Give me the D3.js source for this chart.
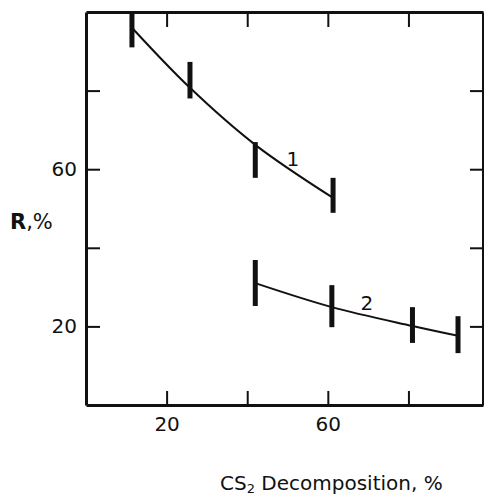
<!DOCTYPE html>
<html>
<head>
    <meta charset="utf-8">
    <script src="https://cdn.jsdelivr.net/npm/d3@7"></script>
    <style>
    body { margin: 0; background: #fff; }
    text { font-family: "DejaVu Sans", sans-serif; fill: #111; }
    .axis path, .axis line { stroke: #111; }
    </style>
</head>
<body>
    <script>
    // values
    var xTicks = [20, 40, 60, 80];
    var yTicks = [20, 40, 60, 80];
    var xLabels = [20, 60];
    var yLabels = [20, 60];

    // curve 1
    var s1x = [11.4, 25.8, 42, 61.3];
    var s1y = [96, 80.7, 66.2, 52.7];
    var s1lo = [91, 78, 57.8, 48.9];
    var s1hi = [100, 87.3, 66.9, 57.8];

    // curve 2
    var s2x = [42, 61, 81, 92.3];
    var s2y = [31, 24.9, 20.1, 17.6];
    var s2lo = [25.2, 19.8, 15.8, 13.2];
    var s2hi = [36.9, 30.5, 24.9, 22.6];

    var series = [
        {name: "1", xs: s1x, ys: s1y, lo: s1lo, hi: s1hi, lx: 51.3, ly: 60.8},
        {name: "2", xs: s2x, ys: s2y, lo: s2lo, hi: s2hi, lx: 69.7, ly: 24.2}
    ];

    var width = 484, height = 497;
    var svg = d3.select("body").append("svg")
        .attr("width", width)
        .attr("height", height);

    var x = d3.scaleLinear().domain([0, 98.5]).range([86, 483]);
    var y = d3.scaleLinear().domain([0, 100]).range([405, 12]);

    var fmt = function(d) { return xLabels.indexOf(d) >= 0 ? d : ""; };
    var fmtY = function(d) { return yLabels.indexOf(d) >= 0 ? d : ""; };

    // axes, ticks pointing inward
    svg.append("g").attr("class", "axis")
        .attr("transform", "translate(0," + y(0) + ")")
        .call(d3.axisBottom(x).tickValues(xTicks).tickSizeInner(-14).tickSizeOuter(0).tickPadding(12).tickFormat(fmt));
    svg.append("g").attr("class", "axis")
        .attr("transform", "translate(0," + y(100) + ")")
        .call(d3.axisTop(x).tickValues(xTicks).tickSizeInner(-15).tickSizeOuter(0).tickFormat(""));
    svg.append("g").attr("class", "axis")
        .attr("transform", "translate(" + x(0) + ",0)")
        .call(d3.axisLeft(y).tickValues(yTicks).tickSizeInner(-14).tickSizeOuter(0).tickPadding(9).tickFormat(fmtY));
    svg.append("g").attr("class", "axis")
        .attr("transform", "translate(" + x(98.5) + ",0)")
        .call(d3.axisRight(y).tickValues(yTicks).tickSizeInner(-13).tickSizeOuter(0).tickFormat(""));

    svg.selectAll(".axis path").attr("stroke-width", 3);
    svg.selectAll(".axis line").attr("stroke-width", 2);
    svg.selectAll(".axis text").attr("font-size", 20).attr("font-family", "DejaVu Sans, sans-serif").attr("fill", "#111");

    var line = d3.line()
        .x(function(d) { return x(d[0]); })
        .y(function(d) { return y(d[1]); })
        .curve(d3.curveCatmullRom.alpha(0.5));

    series.forEach(function(s) {
        var pts = s.xs.map(function(v, i) { return [v, s.ys[i]]; });
        svg.append("path")
            .attr("d", line(pts))
            .attr("fill", "none")
            .attr("stroke", "#111")
            .attr("stroke-width", 2);

        // error bars
        svg.selectAll(null)
            .data(s.xs)
            .enter().append("line")
            .attr("x1", function(d) { return x(d); })
            .attr("x2", function(d) { return x(d); })
            .attr("y1", function(d, i) { return y(s.lo[i]); })
            .attr("y2", function(d, i) { return y(s.hi[i]); })
            .attr("stroke", "#111")
            .attr("stroke-width", 5);

        svg.append("text")
            .attr("x", x(s.lx))
            .attr("y", y(s.ly))
            .attr("text-anchor", "middle")
            .attr("font-size", 20)
            .text(s.name);
    });

    // axis titles
    var rt = svg.append("text").attr("x", 10).attr("y", 229).attr("font-size", 21);
    rt.append("tspan").attr("font-weight", "bold").text("R");
    rt.append("tspan").text(",%");

    var xt = svg.append("text").attr("x", 220).attr("y", 490).attr("font-size", 20);
    xt.append("tspan").text("CS");
    xt.append("tspan").attr("font-size", 13).attr("dy", 3).text("2");
    xt.append("tspan").attr("dy", -3).text(" Decomposition, %");
    </script>
</body>
</html>
